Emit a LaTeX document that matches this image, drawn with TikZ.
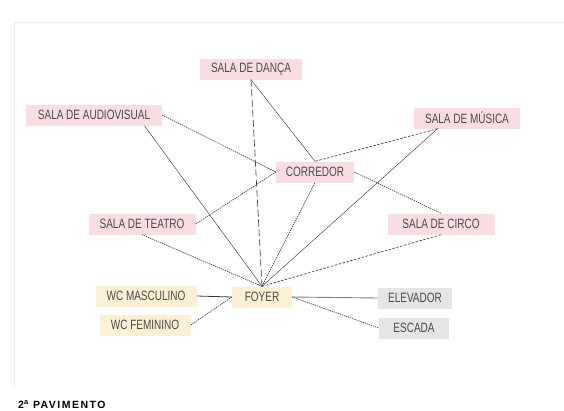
\documentclass[tikz,border=0pt]{standalone}
\usepackage{fontspec}
\usetikzlibrary{positioning}
\newfontfamily\roomfont{Liberation Sans}[FakeStretch=0.74]
\newfontfamily\titlefont{Liberation Sans}[LetterSpace=14]
\definecolor{salapink}{HTML}{F9DDE3}
\definecolor{wcyellow}{HTML}{FBF0D3}
\definecolor{servgray}{HTML}{E5E5E5}
\definecolor{inkgray}{HTML}{4A4A4A}
\definecolor{edgegray}{HTML}{3A3A3A}
\definecolor{framegray}{HTML}{EDEDED}

\begin{document}
\begin{tikzpicture}[
    x=1pt, y=-1pt,
    box/.style={rectangle, minimum height=21pt, inner xsep=8pt, inner ysep=2pt,
                font=\roomfont\fontsize{13.5}{14}\selectfont, text=inkgray},
    sala/.style={box, fill=salapink},
    wc/.style={box, fill=wcyellow},
    serv/.style={box, fill=servgray},
    link/.style={draw=edgegray, line width=0.45pt},
    dotlink/.style={link, line width=0.65pt, dash pattern=on 1.3pt off 0.9pt},
    dashlink/.style={link, line width=0.65pt, dash pattern=on 2.5pt off 1.5pt},
    longdash/.style={link, line width=0.65pt, dash pattern=on 7pt off 3pt},
]
\useasboundingbox (0,0) rectangle (564,410);

% ---------- frame ----------
\draw[framegray, line width=0.8pt] (14,388) -- (14,22) -- (564,22);

% ---------- Rooms (pink) ----------
\node[sala, minimum width=102pt] (danca)    at (251,69)  {SALA DE DANÇA};
\node[sala, minimum width=136pt] (audio)    at (94,115)  {SALA DE AUDIOVISUAL};
\node[sala, minimum width=106pt] (musica)   at (467,118) {SALA DE MÚSICA};
\node[sala, minimum width=78pt]  (corredor) at (315,172) {CORREDOR};
\node[sala, minimum width=107pt] (teatro)   at (142,224) {SALA DE TEATRO};
\node[sala, minimum width=107pt] (circo)    at (441,224) {SALA DE CIRCO};

% ---------- Foyer + WCs (yellow), services (gray) ----------
\node[wc, minimum width=60pt]    (foyer)    at (262,297) {FOYER};
\node[wc, minimum width=101pt]   (wcmasc)   at (146,296) {WC MASCULINO};
\node[wc, minimum width=91pt]    (wcfem)    at (145,325) {WC FEMININO};
\node[serv, minimum width=74pt]  (elevador) at (415,298) {ELEVADOR};
\node[serv, minimum width=70pt]  (escada)   at (414,328) {ESCADA};

% ---------- title ----------
\node[anchor=west, inner sep=0pt, font=\titlefont\bfseries\fontsize{10.5}{11}\selectfont]
     (titulo) at (18,405) {2\textsuperscript{a} PAVIMENTO};

% ---------- links to Corredor ----------
\draw[link]     (danca.south)  -- (corredor.north);
\draw[dotlink]  (audio.east)   -- (corredor.west);
\draw[dashlink] (musica.200)   -- (corredor.north);
\draw[dotlink]  (teatro.east)  -- (corredor.west);
\draw[dotlink]  (corredor.east) -- (circo.north);

% ---------- links to Foyer ----------
\draw[longdash] (danca.south)  -- (foyer.north);
\draw[link]     (audio.348)    -- (foyer.north);
\draw[link]     (musica.200)   -- (foyer.north);
\draw[dotlink]  (corredor.south) -- (foyer.north);
\draw[dotlink]  (teatro.south) -- (foyer.north);
\draw[dashlink] (circo.south)  -- (foyer.north);
\draw[link, line width=0.8pt] (wcmasc.east) -- (foyer.west);
\draw[dotlink]  (wcfem.east)   -- (foyer.west);
\draw[link, draw=gray, line width=0.9pt] (foyer.east) -- (elevador.west);
\draw[dotlink]  (foyer.east)   -- (escada.west);

\end{tikzpicture}
\end{document}
